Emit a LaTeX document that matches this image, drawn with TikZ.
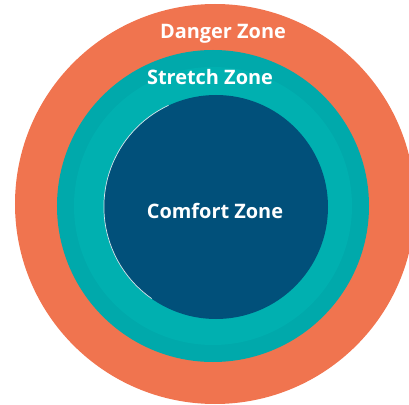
\documentclass[tikz,border=0pt]{standalone}
\usepackage{fontspec}
\setmainfont{Open Sans}
\usepackage{tikz}

\definecolor{danger}{HTML}{F0744F}
\definecolor{stretch}{HTML}{00A9AB}
\definecolor{stretchin}{HTML}{00B0B0}
\definecolor{comfort}{HTML}{01507A}

\begin{document}
\begin{tikzpicture}[x = 1bp, y = 1bp,
								zone/.style = {circle, inner sep = 0pt},
								zonetext/.style = {text = white, font = \fontsize{20}{24}\selectfont\bfseries}]

				\clip (0,0) rectangle (409,405);
				\useasboundingbox (0,0) rectangle (409,405);

				\node [zone, fill = danger, minimum size = 400bp] (danger) at (215,201) {};
				\node [zone, fill = stretch, minimum size = 312bp] (stretch) at (213,199) {};
				\node [zone, fill = stretchin, minimum size = 278bp] (stretchin) at (213,199) {};
				\node [zone, fill = comfort, minimum size = 224bp] (comfort) at (216,198) {};

				\draw [white!85!comfort, line width = 0.7bp] (comfort.115) arc [start angle = 115, end angle = 235, radius = 112bp];

				\node [zonetext] (t_danger) at (223,371) {Danger Zone};
				\node [zonetext] (t_stretch) at (210,328) {Stretch Zone};
				\node [zonetext] (t_comfort) at (215,194) {Comfort Zone};
			\end{tikzpicture}
\end{document}
